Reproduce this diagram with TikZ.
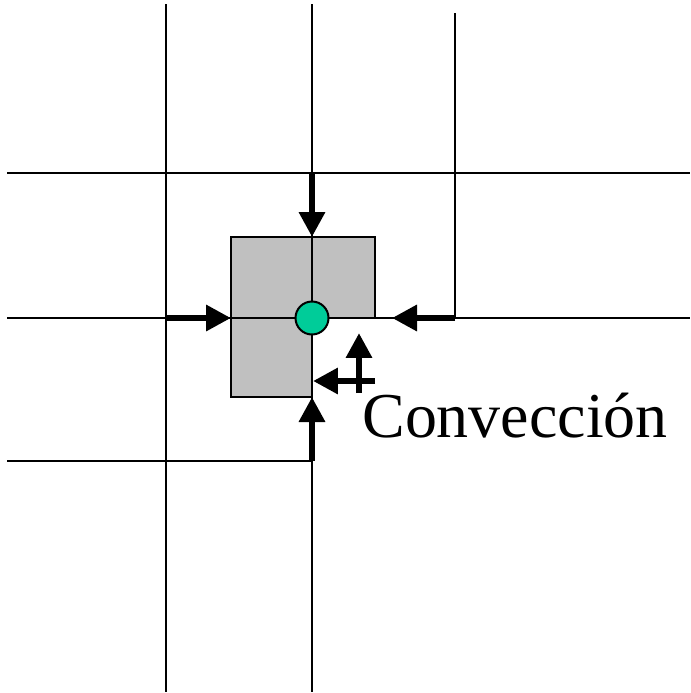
\documentclass[tikz,border=0pt]{standalone}
\usepackage{fontspec}
\setmainfont{Liberation Serif}
\usetikzlibrary{arrows.meta}
\definecolor{PointGreen}{RGB}{0,204,153}
\definecolor{CellGray}{RGB}{192,192,192}

\begin{document}
\begin{tikzpicture}[
    x=0.02cm, y=-0.02cm,
    gridline/.style={line width=0.04cm, black},
    cell/.style={fill=CellGray, draw=black, line width=0.04cm},
    flux/.style={-{Triangle[length=0.5cm, width=0.5cm]}, line width=0.13cm, black},
    point/.style={circle, draw=black, line width=0.04cm, fill=PointGreen,
                  minimum size=0.66cm, inner sep=0pt},
    convlbl/.style={font=\fontsize{36.4}{40}\selectfont, anchor=base west, inner sep=0pt}
]
\useasboundingbox (0,0) rectangle (690,693);

% ===================================================================
% CONTROL VOLUME (L-shaped)
% ===================================================================
\draw[cell] (231,237) -- (375,237) -- (375,318) -- (312,318)
    -- (312,397) -- (231,397) -- cycle;

% ===================================================================
% GRID
% ===================================================================
\draw[gridline] (166,4) -- (166,692);
\draw[gridline] (312,4) -- (312,692);
\draw[gridline] (455,13) -- (455,318);
\draw[gridline] (7,173) -- (690,173);
\draw[gridline] (7,318) -- (690,318);
\draw[gridline] (7,461) -- (312,461);

% ===================================================================
% FACES AND SOURCES
% ===================================================================
\coordinate (nsrc) at (312,173);
\coordinate (nface) at (312,237);
\coordinate (wsrc) at (166,318);
\coordinate (wface) at (231,318);
\coordinate (esrc) at (455,318);
\coordinate (eface) at (392,318);
\coordinate (ssrc) at (312,461);
\coordinate (sface) at (312,397);
\coordinate (cvup0) at (359,393);
\coordinate (cvup1) at (359,333);
\coordinate (cvlf0) at (375,381);
\coordinate (cvlf1) at (313,381);

% ===================================================================
% FLUXES
% ===================================================================
\draw[flux] (nsrc) -- (nface);
\draw[flux] (wsrc) -- (wface);
\draw[flux] (esrc) -- (eface);
\draw[flux] (ssrc) -- (sface);
\draw[flux] (cvup0) -- (cvup1);
\draw[flux] (cvlf0) -- (cvlf1);

\node[point] (P) at (312,318) {};

\node[convlbl] (conv) at (362,437) {Convección};

\end{tikzpicture}
\end{document}
